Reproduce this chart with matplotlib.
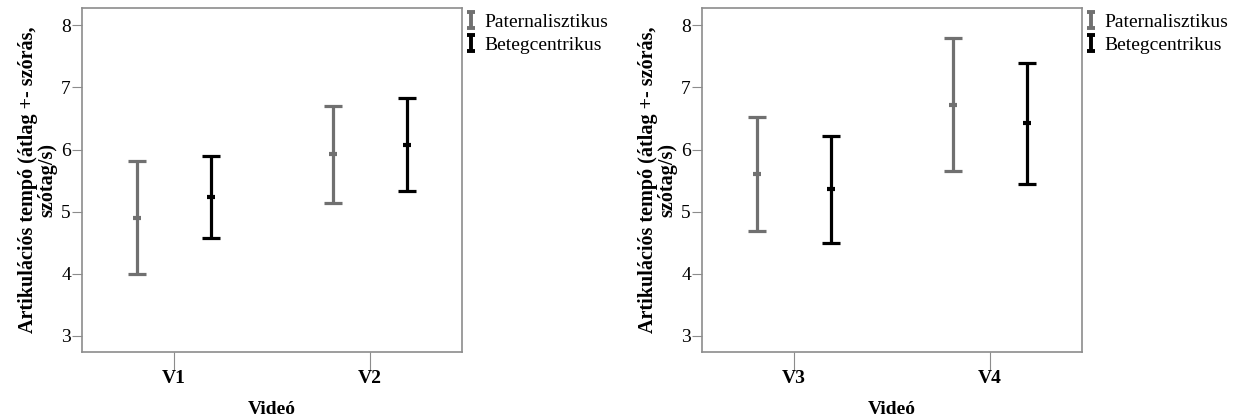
import numpy as np
import matplotlib
matplotlib.use("Agg")
import matplotlib.pyplot as plt
from matplotlib.path import Path
from matplotlib.lines import Line2D

plt.rcParams["font.family"] = ["Liberation Serif", "DejaVu Serif"]

# left panel
videos_left = ["V1", "V2"]
pat_mean_left = [4.90, 5.92]
pat_lo_left = [3.99, 5.14]
pat_hi_left = [5.82, 6.70]
bet_mean_left = [5.23, 6.07]
bet_lo_left = [4.58, 5.33]
bet_hi_left = [5.90, 6.83]

# right panel
videos_right = ["V3", "V4"]
pat_mean_right = [5.60, 6.72]
pat_lo_right = [4.69, 5.65]
pat_hi_right = [6.52, 7.80]
bet_mean_right = [5.36, 6.42]
bet_lo_right = [4.49, 5.44]
bet_hi_right = [6.22, 7.40]

GRAY = "#707070"
BLACK = "#000000"
SPINE = "#8c8c8c"

# "I" shaped marker for the legend
I_MARK = Path(
    [(-0.5, 1), (0.5, 1), (0, 1), (0, -1), (-0.5, -1), (0.5, -1)],
    [Path.MOVETO, Path.LINETO, Path.MOVETO, Path.LINETO, Path.MOVETO, Path.LINETO],
)


def panel(ax, videos, groups):
    x = np.arange(len(videos))
    handles = []
    for off, mean, lo, hi, color, label in groups:
        mean = np.array(mean)
        err = [mean - np.array(lo), np.array(hi) - mean]
        ax.errorbar(x + off, mean, yerr=err, fmt="none", ecolor=color,
                    elinewidth=2.3, capsize=6.8, capthick=2.3)
        ax.plot(x + off, mean, linestyle="none", marker="_", markersize=5.5,
                markeredgewidth=3, color=color)
        handles.append(Line2D([], [], linestyle="none", marker=I_MARK,
                              markersize=11, markeredgewidth=2.8,
                              color=color, label=label))
    ax.set_xlim(-0.47, 1.47)
    ax.set_ylim(2.74, 8.28)
    ax.set_yticks([3, 4, 5, 6, 7, 8])
    ax.set_xticks(x)
    ax.set_xticklabels(videos, fontweight="bold", fontsize=14)
    ax.tick_params(axis="y", labelsize=14, length=7, color=SPINE, pad=1)
    ax.tick_params(axis="x", length=13, color=SPINE, pad=0)
    for sp in ax.spines.values():
        sp.set_color(SPINE)
        sp.set_linewidth(1.2)
    ax.set_xlabel("Videó", fontweight="bold", fontsize=14, labelpad=10)
    ax.set_ylabel("Artikulációs tempó (átlag +- szórás,\nszótag/s)",
                  fontweight="bold", fontsize=14.5, labelpad=3, linespacing=0.95)
    ax.legend(handles=handles, loc="upper left", bbox_to_anchor=(1.0, 0.995),
              frameon=False, fontsize=14, handlelength=0.5,
              handletextpad=0.43, borderaxespad=0.1, borderpad=0.1,
              labelspacing=0.25)


fig = plt.figure(figsize=(12.41, 4.17), dpi=100)
ax1 = fig.add_axes([0.0661, 0.156, 0.3062, 0.825])
ax2 = fig.add_axes([0.5657, 0.156, 0.3062, 0.825])

panel(ax1, videos_left, [
    (-0.19, pat_mean_left, pat_lo_left, pat_hi_left, GRAY, "Paternalisztikus"),
    (0.19, bet_mean_left, bet_lo_left, bet_hi_left, BLACK, "Betegcentrikus"),
])
panel(ax2, videos_right, [
    (-0.19, pat_mean_right, pat_lo_right, pat_hi_right, GRAY, "Paternalisztikus"),
    (0.19, bet_mean_right, bet_lo_right, bet_hi_right, BLACK, "Betegcentrikus"),
])

fig.savefig("out.png", dpi=100)
